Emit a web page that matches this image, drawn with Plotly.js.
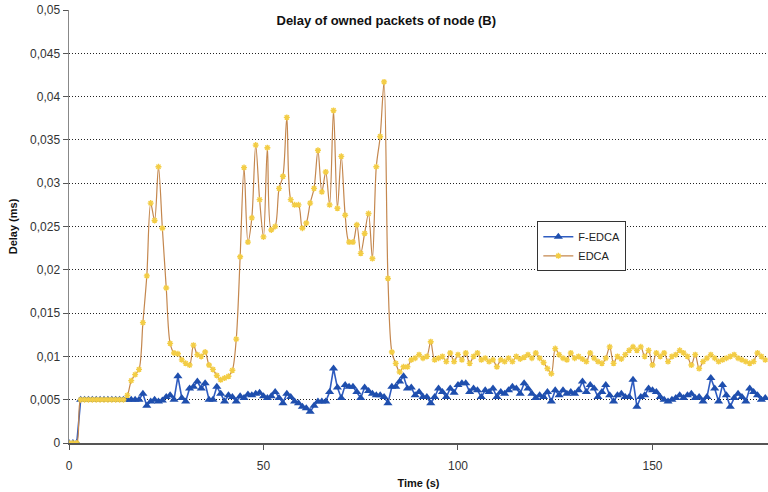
<!DOCTYPE html>
<html>
<head>
<meta charset="utf-8">
<script src="https://cdn.plot.ly/plotly-3.0.1.min.js"></script>
<style>
  html, body { margin: 0; padding: 0; background: #ffffff; }
  #chart { width: 768px; height: 492px; }
</style>
</head>
<body>
<div id="chart"></div>
<script>
// ---- Data ----
var timeS = [0,1,2,3,4,5,6,7,8,9,10,11,12,13,14,15,16,17,18,19,
  20,21,22,23,24,25,26,27,28,29,30,31,32,33,34,35,36,37,38,39,
  40,41,42,43,44,45,46,47,48,49,50,51,52,53,54,55,56,57,58,59,
  60,61,62,63,64,65,66,67,68,69,70,71,72,73,74,75,76,77,78,79,
  80,81,82,83,84,85,86,87,88,89,90,91,92,93,94,95,96,97,98,99,
  100,101,102,103,104,105,106,107,108,109,110,111,112,113,114,115,116,117,118,119,
  120,121,122,123,124,125,126,127,128,129,130,131,132,133,134,135,136,137,138,139,
  140,141,142,143,144,145,146,147,148,149,150,151,152,153,154,155,156,157,158,159,
  160,161,162,163,164,165,166,167,168,169,170,171,172,173,174,175,176,177,178,179];

var fedcaDelay = [0,0,0,0.005,0.005,0.005,0.005,0.005,0.005,0.005,
  0.005,0.005,0.005,0.005,0.005,0.005,0.005,0.005,0.005,0.0057,
  0.0043,0.0048,0.0050,0.0048,0.0049,0.0053,0.0055,0.0050,0.0077,0.0052,
  0.0048,0.0063,0.0065,0.0071,0.0063,0.0069,0.0050,0.0050,0.0065,0.0057,
  0.0048,0.0055,0.0053,0.0048,0.0054,0.0052,0.0056,0.0055,0.0057,0.0058,
  0.0054,0.0052,0.0054,0.0059,0.0052,0.0046,0.0057,0.0053,0.0048,0.0046,
  0.0042,0.0040,0.0036,0.0043,0.0048,0.0048,0.0048,0.0059,0.0086,0.0064,
  0.0052,0.0067,0.0065,0.0065,0.0059,0.0052,0.0064,0.0060,0.0057,0.0055,
  0.0055,0.0053,0.0046,0.0065,0.0065,0.0071,0.0077,0.0063,0.0064,0.0055,
  0.0059,0.0053,0.0053,0.0046,0.0053,0.0063,0.0059,0.0053,0.0063,0.0058,
  0.0067,0.0069,0.0069,0.0059,0.0063,0.0061,0.0053,0.0061,0.0059,0.0063,
  0.0053,0.0059,0.0057,0.0061,0.0065,0.0063,0.0057,0.0069,0.0063,0.0057,
  0.0052,0.0055,0.0053,0.0059,0.0048,0.0061,0.0055,0.0061,0.0057,0.0059,
  0.0057,0.0061,0.0071,0.0059,0.0067,0.0063,0.0053,0.0059,0.0067,0.0055,
  0.0048,0.0055,0.0057,0.0053,0.0053,0.0073,0.0042,0.0053,0.0055,0.0063,
  0.0061,0.0059,0.0053,0.0050,0.0048,0.0050,0.0052,0.0055,0.0052,0.0055,
  0.0057,0.0052,0.0053,0.0048,0.0053,0.0075,0.0063,0.0048,0.0067,0.0055,
  0.0042,0.0052,0.0057,0.0053,0.0048,0.0063,0.0059,0.0055,0.0050,0.0052];

var edcaDelay = [0,0,0,0.005,0.005,0.005,0.005,0.005,0.005,0.005,
  0.005,0.005,0.005,0.005,0.005,0.0055,0.0072,0.0079,0.0085,0.0139,
  0.0193,0.0277,0.0257,0.0319,0.0248,0.0179,0.0115,0.0104,0.0103,0.0096,
  0.0092,0.0090,0.0113,0.0102,0.0100,0.0105,0.0090,0.0085,0.0078,0.0073,
  0.0075,0.0077,0.0084,0.0120,0.0215,0.0318,0.0232,0.0260,0.0344,0.0281,
  0.0238,0.0341,0.0246,0.0250,0.0294,0.0308,0.0376,0.0281,0.0275,0.0275,
  0.0248,0.0254,0.0277,0.0294,0.0338,0.0290,0.0313,0.0275,0.0384,0.0271,
  0.0331,0.0263,0.0232,0.0232,0.0252,0.0219,0.0242,0.0265,0.0213,0.0319,
  0.0354,0.0417,0.0190,0.0105,0.0092,0.0082,0.0088,0.0088,0.0096,0.0098,
  0.0102,0.0098,0.0100,0.0117,0.0096,0.0098,0.0100,0.0094,0.0104,0.0094,
  0.0102,0.0096,0.0104,0.0092,0.0100,0.0104,0.0096,0.0098,0.0094,0.0096,
  0.0088,0.0096,0.0094,0.0098,0.0094,0.0100,0.0097,0.0099,0.0102,0.0098,
  0.0104,0.0098,0.0093,0.0086,0.0080,0.0109,0.0102,0.0098,0.0096,0.0104,
  0.0098,0.0100,0.0097,0.0094,0.0104,0.0098,0.0094,0.0092,0.0098,0.0111,
  0.0092,0.0100,0.0097,0.0102,0.0107,0.0111,0.0107,0.0111,0.0100,0.0107,
  0.0090,0.0104,0.0100,0.0104,0.0094,0.0100,0.0102,0.0107,0.0104,0.0100,
  0.0090,0.0102,0.0086,0.0094,0.0098,0.0102,0.0098,0.0094,0.0096,0.0098,
  0.0100,0.0102,0.0098,0.0096,0.0094,0.0092,0.0094,0.0104,0.0100,0.0096];

var seriesNames = ['F-EDCA', 'EDCA'];
var yTickVals = [0,0.005,0.01,0.015,0.02,0.025,0.03,0.035,0.04,0.045,0.05];
var yTickText = ['0','0,005','0,01','0,015','0,02','0,025','0,03','0,035','0,04','0,045','0,05'];
var xTickVals = [0,50,100,150];
var xTickText = ['0','50','100','150'];
var chartTitle = 'Delay of owned packets of node (B)';
var xTitle = 'Time (s)';
var yTitle = 'Delay (ms)';

// ---- Chart ----
var FONT = 'Liberation Sans, Arial, sans-serif';

var traces = [
  {
    x: timeS, y: fedcaDelay, name: seriesNames[0],
    type: 'scatter', mode: 'lines+markers',
    line: { color: '#2f5cc0', width: 1.6 },
    marker: { symbol: 'triangle-up', size: 8, color: '#1f4fae', line: { width: 0 } }
  },
  {
    x: timeS, y: edcaDelay, name: seriesNames[1],
    type: 'scatter', mode: 'lines+markers',
    line: { color: '#c4874e', width: 1.2, shape: 'spline', smoothing: 0.9 },
    marker: { symbol: 'asterisk-open', size: 5, color: '#f3cd45', line: { color: '#f3cd45', width: 1.4 } }
  }
];

var layout = {
  width: 768, height: 492,
  paper_bgcolor: '#ffffff', plot_bgcolor: '#ffffff',
  margin: { l: 69, r: 0, t: 10, b: 49 },
  font: { family: FONT, size: 12, color: '#333333' },
  title: {
    text: chartTitle,
    font: { family: FONT, size: 13, color: '#111111', weight: 'bold' },
    xref: 'container', x: 0.503, xanchor: 'center',
    yref: 'container', y: 0.959, yanchor: 'middle'
  },
  showlegend: true,
  legend: {
    x: 0.67, y: 0.512, xanchor: 'left', yanchor: 'top',
    bgcolor: '#ffffff', bordercolor: '#333333', borderwidth: 1,
    font: { family: FONT, size: 11, color: '#222222' },
    tracegroupgap: 0, itemwidth: 30
  },
  xaxis: {
    range: [0, 179.7],
    tickmode: 'array', tickvals: xTickVals, ticktext: xTickText,
    ticks: 'outside', ticklen: 5, tickcolor: '#555555', tickwidth: 1,
    ticklabelstandoff: 6,
    showgrid: false, zeroline: false,
    showline: true, linecolor: '#555555', linewidth: 1.5,
    tickfont: { family: FONT, size: 12, color: '#333333' },
    title: { text: xTitle, font: { family: FONT, size: 11, color: '#111111', weight: 'bold' }, standoff: 7 }
  },
  yaxis: {
    range: [0, 0.05],
    tickmode: 'array', tickvals: yTickVals, ticktext: yTickText,
    ticks: 'outside', ticklen: 5, tickcolor: '#555555', tickwidth: 1,
    showgrid: true, gridcolor: '#222222', gridwidth: 1, griddash: '1px,2px',
    zeroline: false,
    showline: true, linecolor: '#888888', linewidth: 1.5,
    tickfont: { family: FONT, size: 12, color: '#333333' },
    title: { text: yTitle, font: { family: FONT, size: 11, color: '#111111', weight: 'bold' }, standoff: 10 }
  }
};

Plotly.newPlot('chart', traces, layout, { staticPlot: true, displayModeBar: false });
</script>
</body>
</html>
